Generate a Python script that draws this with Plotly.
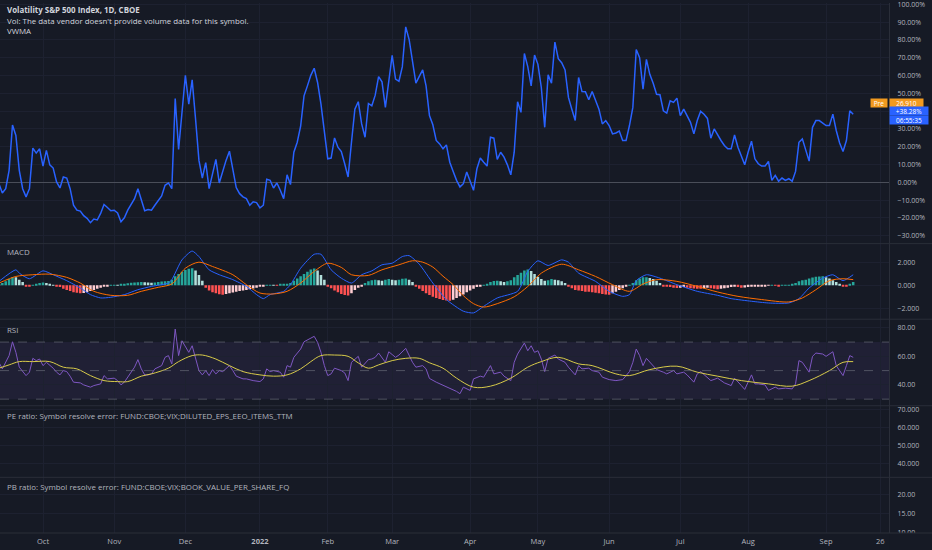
import pandas as pd
import plotly.graph_objects as go
from plotly.subplots import make_subplots

# ---------------- calendar (trading days shown on the chart) ----------------
FIRST_BAR = "2021-09-14"
LAST_BAR = "2022-09-14"
HOLIDAYS = ["2021-11-25", "2021-12-24", "2022-01-17", "2022-02-21", "2022-04-15",
            "2022-05-30", "2022-06-20", "2022-07-04", "2022-09-05"]

tick_dates = ["2021-10-01", "2021-11-01", "2021-12-01", "2022-01-03", "2022-02-01",
              "2022-03-01", "2022-04-01", "2022-05-02", "2022-06-01", "2022-07-01",
              "2022-08-01", "2022-09-01", "2022-09-26"]
tick_labels = ["Oct", "Nov", "Dec", "<b>2022</b>", "Feb", "Mar", "Apr", "May", "Jun",
               "Jul", "Aug", "Sep", "26"]

# ---------------- main series: VIX close, % change from first visible bar ----------------
vix_pct = [
    -0.8, -6, -3.6, 6.7, 32.2, 26.3, 6.7, -3.6, -8.2, -3.6,
    19.2, 16.4, 18.8, 9.1, 17.9, 9.8, 8.0, 0.2, -3.2, 3.0,
    2.4, -3.6, -12.9, -15.7, -16.2, -18.8, -20.3, -22.7, -20.7, -21.2,
    -17.5, -12.5, -14.2, -16.0, -15.7, -17.2, -22.2, -20.0, -15.7, -12.0,
    -9.2, -3.6, -10.1, -16.0, -15.3, -15.7, -12.9, -10.1, -7.7, -1.7,
    -0.4, -3.6, 47.1, 18.4, 41.1, 60.1, 43.9, 57.6, 35.6, 12.3,
    2.4, 11.0, -3.6, 4.2, 12.9, -0.4, 6.7, 12.3, 17.5, 7.6,
    -3.0, -6.4, -8.2, -9.2, -12.9, -11.0, -11.4, -14.4, -12.9, 1.7,
    1.1, -3.2, -0.4, -4.5, -9.2, 4.2, -1.3, 16.9, 22.5, 31.5,
    48.6, 54.2, 60.1, 64.1, 56.1, 43.9, 28.1, 13.2, 13.6, 24.9,
    19.7, 17.3, 10.4, 3.0, 22.5, 41.1, 45.3, 32.8, 25.3, 44.3,
    43.0, 49.0, 59.4, 56.5, 42.1, 56.5, 71.3, 58.0, 56.8, 65.0,
    87.4, 80.3, 69.1, 55.7, 59.5, 63.2, 54.2, 37.5, 32.3, 23.5,
    21.6, 18.8, 21.0, 11.3, 6.1, 1.1, -2.6, -0.8, 5.8, 1.1,
    -4.5, 7.6, 13.6, 11.3, 9.1, 25.3, 24.8, 12.9, 16.9, 14.1,
    9.8, 4.2, 16.9, 45.3, 39.3, 72.4, 65.0, 54.2, 71.5, 66.3,
    53.3, 30.9, 60.4, 55.7, 78.8, 69.5, 67.2, 63.2, 47.7, 41.1,
    34.7, 58.9, 51.0, 50.9, 46.4, 51.0, 46.4, 41.1, 32.8, 34.7,
    31.9, 27.2, 27.7, 28.8, 23.5, 23.5, 31.9, 42.1, 74.7, 70.0,
    52.3, 69.1, 60.7, 55.7, 49.5, 49.2, 40.2, 38.9, 45.8, 44.9,
    47.3, 37.5, 41.1, 37.8, 33.7, 27.2, 34.7, 39.9, 38.3, 35.9,
    24.8, 30.0, 26.6, 23.5, 20.7, 18.8, 18.8, 26.6, 19.7, 15.1,
    9.8, 16.9, 23.1, 13.2, 10.4, 9.1, 9.1, 11.7, 1.1, 3.9,
    0.6, 2.4, 1.1, 2.0, 0.6, 6.1, 22.5, 24.4, 18.8, 11.9,
    30.9, 34.7, 34.7, 33.3, 31.9, 31.9, 38.3, 29.1, 22.1, 17.3,
    23.5, 40.2, 38.28,
]
pre_pct = 44.6
pre_price_text = "26.910"
last_change_text = "+38.28%"
countdown_text = "06:55:35"
main_ticks = list(range(-30, 101, 10))
main_ticks_hidden = [40]          # covered by the price labels in the original

# ---------------- MACD pane ----------------
macd_hist = [
    0.1, 0.2, 0.35, 0.55, 0.7, 0.7, 0.5, 0.3,
    -0.05, -0.12,
    0.05, 0.15, 0.2, 0.25, 0.2, 0.15,
    0.05, -0.05,
    -0.15, -0.3, -0.4, -0.5, -0.6, -0.65, -0.68, -0.66,
    -0.6, -0.5, -0.4, -0.3, -0.2,
    -0.1, -0.05, 0.02, 0.05, 0.02,
    0.08, 0.12, 0.18, 0.22, 0.25, 0.28, 0.3, 0.28, 0.25, 0.22, 0.25, 0.3, 0.33, 0.35, 0.38,
    0.5, 0.8, 1.0, 1.2, 1.35, 1.45, 1.5,
    1.3, 0.9, 0.4,
    -0.2, -0.45, -0.6, -0.7, -0.78, -0.82,
    -0.75, -0.7, -0.62, -0.55, -0.5, -0.45, -0.4, -0.35, -0.28, -0.2, -0.12,
    -0.05, 0.02, 0.05, 0.03, -0.02,
    0.08, 0.12, 0.15, 0.2,
    0.4, 0.6, 0.8, 1.0, 1.2, 1.38, 1.48,
    1.3, 0.9, 0.5,
    -0.1, -0.25, -0.45, -0.6, -0.75, -0.85, -0.88,
    -0.7, -0.4, -0.2, -0.05,
    0.2, 0.35, 0.45, 0.5, 0.45, 0.4, 0.5, 0.55, 0.5, 0.45, 0.5, 0.58, 0.6, 0.5, 0.3,
    -0.1, -0.3, -0.5, -0.7, -0.85, -1.0, -1.1, -1.2, -1.27, -1.32, -1.35,
    -1.25, -1.1, -0.95, -0.8, -0.6, -0.45, -0.3, -0.15,
    -0.05, 0.05, 0.1,
    0.3, 0.38, 0.4, 0.35, 0.3, 0.35, 0.45,
    0.7, 0.9, 1.1, 1.3, 1.38,
    1.25, 1.0, 0.75, 0.55,
    0.4, 0.45, 0.55, 0.5, 0.45, 0.35, 0.2,
    -0.1, -0.25, -0.4, -0.45, -0.5, -0.55, -0.55, -0.6, -0.65, -0.7, -0.75, -0.8, -0.82,
    -0.7, -0.55, -0.4, -0.25, -0.1,
    0.05, 0.2, 0.45, 0.6, 0.7, 0.72, 0.65, 0.55,
    0.4, 0.2,
    -0.05, -0.1, -0.15, -0.2, -0.22, -0.2, -0.15, -0.2, -0.25, -0.28,
    -0.3, -0.3, -0.25, -0.2, -0.25, -0.3, -0.35, -0.3, -0.25, -0.2,
    -0.15, -0.12, -0.15, -0.2, -0.18, -0.15, -0.12, -0.1, -0.08, -0.06,
    -0.04, -0.02, 0.02, -0.02, -0.03, 0.01, 0.03, 0.05, 0.08,
    0.2, 0.35, 0.45, 0.5, 0.6, 0.68, 0.75, 0.78, 0.8,
    0.7, 0.6, 0.45, 0.3, 0.15,
    -0.05, -0.1,
    0.15, 0.3,
]

# (bar number, value) readings
macd_points = [
    (0, 0.35), (5, 1.36), (6, 1.07), (9, 0.58), (13, 1.27), (16, 0.93), (20, 0.41),
    (24, -0.23), (27, -0.81), (30, -1.1), (33, -1.04), (37, -0.81), (41, -0.38),
    (45, -0.09), (50, 0.2), (51, 0.5), (54, 2.23), (57, 3.0), (59, 2.52), (62, 1.36),
    (65, 0.93), (69, 0.5), (73, -0.09), (76, -0.81), (78, -1.16), (80, -0.81),
    (84, -0.52), (86, 0.06), (89, 1.5), (93, 2.72), (95, 2.72), (98, 1.36),
    (101, 0.63), (104, 0.2), (107, 0.93), (110, 1.27), (113, 1.8), (116, 1.94),
    (119, 2.52), (121, 2.6), (124, 1.85), (128, 0.2), (132, -1.24), (137, -2.26),
    (140, -2.41), (143, -1.83), (147, -1.1), (153, -0.52), (156, 1.22), (159, 2.15),
    (162, 1.74), (166, 2.23), (168, 2.03), (171, 1.07), (176, 0.35), (180, -0.52),
    (184, -0.96), (186, -0.81), (188, 0.41), (191, 0.93), (195, 0.63), (200, 0.06),
    (206, -0.52), (212, -0.87), (216, -1.16), (222, -1.39), (227, -1.54),
    (233, -1.54), (236, -1.16), (239, -0.23), (243, 0.63), (246, 0.93),
    (249, 0.41), (252, 0.93),
]
signal_points = [
    (0, 0.2), (5, 0.78), (10, 0.93), (15, 0.98), (20, 0.7), (24, 0.2), (28, -0.52),
    (33, -0.87), (38, -0.87), (42, -0.52), (47, -0.17), (51, 0.12), (55, 1.5),
    (59, 2.03), (63, 1.65), (69, 0.93), (73, 0.06), (77, -0.67), (81, -0.75),
    (85, -0.52), (89, 0.2), (93, 1.22), (97, 1.94), (101, 1.57), (104, 0.93),
    (109, 0.87), (113, 1.36), (118, 1.8), (122, 2.15), (125, 2.03), (128, 1.6),
    (131, 0.8), (134, 0.06), (137, -0.9), (140, -1.6), (143, -1.9), (147, -1.6),
    (152, -1.0), (156, -0.1), (160, 1.07), (166, 1.85), (171, 1.36), (176, 0.78),
    (181, 0.06), (186, -0.52), (190, 0.12), (194, 0.5), (200, 0.35), (206, -0.09),
    (212, -0.58), (218, -0.96), (225, -1.24), (233, -1.45), (237, -1.1),
    (241, -0.38), (245, 0.41), (249, 0.58), (252, 0.5),
]

# ---------------- RSI pane ----------------
rsi_points = [
    (0, 55.8), (1, 51.2), (3, 60.5), (4, 70.2), (5, 62.8), (6, 52.4), (8, 46.5),
    (9, 48.9), (10, 58.6), (11, 57), (12, 58.1), (13, 53.5), (14, 55.8), (16, 51.7),
    (17, 48.9), (18, 47), (19, 50), (20, 49.3), (21, 46.1), (22, 41.9), (24, 41.4),
    (25, 40), (27, 38.4), (28, 39.5), (30, 40.7), (31, 46.5), (32, 44.2), (34, 44.7),
    (35, 43), (36, 40), (37, 41.9), (39, 48.9), (40, 52.4), (41, 57.7), (42, 51.2),
    (43, 47), (44, 47), (45, 47.7), (46, 51.2), (48, 53.5), (49, 59.3), (50, 60.5),
    (51, 54.7), (52, 79.1), (53, 60.5), (54, 70.9), (55, 66.3), (56, 62.8),
    (57, 67.4), (58, 59.3), (59, 50), (60, 47), (61, 50), (62, 46.5), (63, 50.7),
    (64, 47.7), (65, 50), (66, 49.3), (68, 53.5), (69, 50), (70, 46.1), (72, 44.2),
    (73, 44.2), (75, 43), (77, 42.3), (78, 44.2), (79, 51.2), (80, 49.3), (81, 50),
    (83, 48.9), (84, 45.4), (85, 53.5), (86, 52.4), (87, 59.3), (89, 65.1),
    (90, 70.2), (92, 72.6), (93, 74), (94, 69.8), (95, 62.8), (96, 53.5), (97, 46.5),
    (98, 47.7), (99, 51.7), (101, 50), (102, 48.4), (103, 43), (104, 55.8),
    (106, 60), (107, 52.4), (109, 57.7), (110, 58.1), (111, 59.3), (112, 62.3),
    (114, 55.8), (115, 63.2), (117, 59.3), (118, 60.9), (120, 65.6), (121, 60.9),
    (122, 55.8), (123, 52.4), (125, 53.5), (126, 51.2), (127, 44.5), (129, 41.9),
    (131, 39.8), (133, 38), (135, 35.4), (136, 33.8), (137, 38.4), (139, 36.1),
    (140, 44.2), (142, 46.1), (143, 45.4), (145, 53.5), (146, 47.7), (148, 48.9),
    (149, 46.1), (151, 43), (152, 55.8), (153, 61.6), (155, 69.3), (156, 63.9),
    (157, 67.4), (158, 62.8), (159, 63.9), (160, 58.1), (161, 49.3), (162, 58.6),
    (164, 60.9), (165, 58.1), (167, 55.8), (168, 52.4), (170, 47), (171, 53.5),
    (172, 51.2), (174, 51.7), (175, 50), (177, 48.9), (178, 45.4), (180, 43.7),
    (182, 43), (184, 43.7), (186, 49.3), (187, 55.8), (188, 65.1), (189, 60.5),
    (190, 53.5), (191, 58.6), (193, 53.5), (194, 50.7), (196, 48.9), (197, 47.7),
    (199, 50), (200, 47.7), (202, 48.9), (203, 47), (205, 41.9), (206, 47.7),
    (207, 49.3), (209, 45.4), (210, 43), (212, 44.7), (214, 41.4), (216, 39.5),
    (217, 44.7), (219, 39.5), (220, 36.8), (222, 47), (223, 40.7), (224, 40.7),
    (226, 40), (227, 36.1), (229, 38.4), (230, 37.2), (232, 37.7), (234, 37.2),
    (235, 40.7), (236, 57), (237, 55.8), (239, 48.9), (240, 60), (241, 62.3),
    (243, 61.6), (244, 60), (246, 63.2), (247, 53.5), (249, 46.5), (250, 53.5),
    (251, 60.5), (252, 59.3),
]
rsi_ma_points = [
    (0, 51.7), (3, 54), (6, 56.3), (10, 56.3), (15, 56.3), (19, 52.4), (23, 51.2),
    (27, 46.5), (31, 43), (35, 42.3), (38, 42.3), (42, 46.1), (45, 47.7), (50, 51.7),
    (53, 56.3), (57, 60.5), (60, 60.9), (64, 58.1), (68, 53.5), (72, 49.3), (77, 47),
    (81, 46.1), (85, 47), (89, 51.2), (92, 56.3), (95, 60.5), (99, 60.9), (103, 60),
    (106, 55.4), (109, 51.7), (112, 54), (116, 57), (120, 58.6), (124, 58.6),
    (127, 55.5), (131, 51.7), (135, 44.7), (140, 38.4), (145, 39.1), (151, 44.7),
    (156, 52.4), (160, 56.3), (165, 59.3), (171, 54.7), (175, 53.5), (182, 47.7),
    (186, 46.5), (192, 50.7), (200, 53.1), (206, 48.9), (212, 46.1), (219, 43),
    (227, 40.7), (234, 39.1), (239, 43), (245, 50), (249, 55.8), (252, 56.3),
]
rsi_upper, rsi_mid, rsi_lower = 70, 50, 30

# PE / PB panes: symbol resolve error -> no values
pe_ticks = [40, 50, 60, 70]
pb_ticks = [10, 15, 20]

# ---------------- build ----------------
dates = pd.bdate_range(FIRST_BAR, LAST_BAR, freq="C", holidays=HOLIDAYS)


def unpack(points):
    return [dates[b] for b, _ in points], [v for _, v in points]


def fmt(v, dec, suffix=""):
    s = f"{abs(v):.{dec}f}{suffix}"
    return ("\u2212" + s) if v < 0 else s


BG = "#161A25"
GRID = "#1D2130"
SEP = "#2A2E39"
TXT = "#B2B5BE"
FONT = "Open Sans"

fig = make_subplots(rows=5, cols=1, shared_xaxes=True, vertical_spacing=0,
                    row_heights=[242, 76, 87, 72, 56])

fig.add_trace(go.Scatter(x=dates, y=vix_pct, mode="lines",
                         line=dict(color="#2962FF", width=1.5)), row=1, col=1)

hist_colors = []
prev = macd_hist[0]
for v in macd_hist:
    if v >= 0:
        hist_colors.append("#26A69A" if v > prev else "#B2DFDB")
    else:
        hist_colors.append("#FFCDD2" if v > prev else "#FF5252")
    prev = v
fig.add_trace(go.Bar(x=dates[:len(macd_hist)], y=macd_hist, marker_color=hist_colors,
                     marker_line_width=0), row=2, col=1)
mx, my = unpack(macd_points)
fig.add_trace(go.Scatter(x=mx, y=my, mode="lines", line=dict(color="#2962FF", width=1, shape="spline", smoothing=0.6)), row=2, col=1)
sx, sy = unpack(signal_points)
fig.add_trace(go.Scatter(x=sx, y=sy, mode="lines", line=dict(color="#FF6D00", width=1, shape="spline", smoothing=0.8)), row=2, col=1)

rx, ry = unpack(rsi_points)
fig.add_trace(go.Scatter(x=rx, y=ry, mode="lines", line=dict(color="#7E57C2", width=1)), row=3, col=1)
ax_, ay_ = unpack(rsi_ma_points)
fig.add_trace(go.Scatter(x=ax_, y=ay_, mode="lines", line=dict(color="#D8CB4A", width=1, shape="spline", smoothing=1)), row=3, col=1)

# PE / PB series are unavailable (all missing), the panes keep their scales
no_values = [None] * len(dates)
fig.add_trace(go.Scatter(x=dates, y=no_values, mode="lines", hoverinfo="skip"), row=4, col=1)
fig.add_trace(go.Scatter(x=dates, y=no_values, mode="lines", hoverinfo="skip"), row=5, col=1)

fig.update_xaxes(
    type="date",
    range=["2021-09-14 07:35", "2022-09-28 13:30"],
    rangebreaks=[dict(bounds=["sat", "mon"]), dict(values=HOLIDAYS)],
    tickmode="array", tickvals=tick_dates, ticktext=tick_labels,
    showgrid=True, gridcolor=GRID, gridwidth=1, zeroline=False, showline=False,
    ticks="", ticklen=0, ticklabeloverflow="allow", ticklabelstandoff=2,
    tickfont=dict(family=FONT, size=7.5, color=TXT),
)
for r in range(1, 5):
    fig.update_xaxes(showticklabels=False, row=r, col=1)
fig.update_xaxes(showticklabels=True, row=5, col=1)

fig.update_yaxes(side="right", showgrid=True, gridcolor=GRID, gridwidth=1, zeroline=False,
                 showline=True, linecolor=SEP, linewidth=1, ticks="", ticklen=0,
                 ticklabeloverflow="allow", ticklabelstandoff=6,
                 tickfont=dict(family=FONT, size=7, color=TXT))
fig.update_yaxes(row=1, col=1, range=[-34.5, 100.8], tickmode="array",
                 tickvals=main_ticks,
                 ticktext=["" if v in main_ticks_hidden else fmt(v, 2, "%") for v in main_ticks],
                 zeroline=True, zerolinecolor="#4A4E59", zerolinewidth=1)
fig.update_yaxes(row=2, col=1, range=[-2.96, 3.65], tickmode="array", tickvals=[-2, 0, 2],
                 ticktext=[fmt(v, 3) for v in (-2, 0, 2)])
fig.update_yaxes(row=3, col=1, range=[25.4, 86.0], tickmode="array", tickvals=[40, 60, 80],
                 ticktext=[fmt(v, 2) for v in (40, 60, 80)])
fig.update_yaxes(row=4, col=1, range=[31.97, 72.4], tickmode="array", tickvals=pe_ticks,
                 ticktext=[fmt(v, 3) for v in pe_ticks])
fig.update_yaxes(row=5, col=1, range=[9.92, 24.39], tickmode="array", tickvals=pb_ticks,
                 ticktext=[fmt(v, 2) for v in pb_ticks])

H = 533.0
shapes = [
    dict(type="rect", xref="x3 domain", yref="y3", x0=0, x1=1, y0=rsi_lower, y1=rsi_upper,
         fillcolor="rgba(126,87,194,0.1)", line_width=0, layer="below"),
]
for lvl in (rsi_upper, rsi_mid, rsi_lower):
    shapes.append(dict(type="line", xref="x3 domain", yref="y3", x0=0, x1=1, y0=lvl, y1=lvl,
                       line=dict(color="rgba(120,123,134,0.55)", width=1, dash="dash")))
# mask bottom-right corner (price-scale clipping)
shapes.append(dict(type="rect", xref="paper", yref="paper", x0=1.0005, x1=1.06, y0=-17 / H, y1=0,
                   fillcolor=BG, line_width=0, layer="above"))
for ypx in (242, 318, 405, 477, 533):
    yy = (H - ypx) / H
    shapes.append(dict(type="line", xref="paper", yref="paper", x0=0, x1=932 / 889, y0=yy, y1=yy,
                       line=dict(color=SEP, width=1), layer="above"))

ann = []
legend_rows = [
    ("<b>Volatility S&P 500 Index, 1D, CBOE</b>", 7.3, "#D1D4DC"),
    ("Vol: The data vendor doesn't provide volume data for this symbol.", 18.3, "#D1D4DC"),
    ("VWMA", 28.3, "#D1D4DC"),
    ("MACD", 250.7, TXT),
    ("RSI", 329, TXT),
    ("PE ratio: Symbol resolve error: FUND:CBOE;VIX;DILUTED_EPS_EEO_ITEMS_TTM", 415, TXT),
    ("PB ratio: Symbol resolve error: FUND:CBOE;VIX;BOOK_VALUE_PER_SHARE_FQ", 486.7, TXT),
]
for text, ypx, col in legend_rows:
    ann.append(dict(text=text, xref="paper", yref="paper", x=5 / 889, y=(H - ypx) / H,
                    xanchor="left", yanchor="middle", showarrow=False,
                    font=dict(family=FONT, size=7.9, color=col)))

LBL = dict(family=FONT, size=6.5, color="#FFFFFF")
BOX_H = 8.4
ann.append(dict(text="Pre", xref="paper", yref="y", x=1, y=pre_pct, xanchor="right", xshift=-1,
                yanchor="middle", showarrow=False, bgcolor="#F29A1F", width=16, height=BOX_H,
                font=LBL, borderpad=0))
ann.append(dict(text=pre_price_text, xref="paper", yref="y", x=1, y=pre_pct, xanchor="left",
                yanchor="middle", showarrow=False, bgcolor="#F29A1F", width=33, height=BOX_H,
                font=LBL, borderpad=0))
ann.append(dict(text=last_change_text, xref="paper", yref="y", x=1, y=pre_pct, xanchor="left",
                yanchor="middle", yshift=-BOX_H, showarrow=False, bgcolor="#2962FF", width=38,
                height=BOX_H, font=LBL, borderpad=0))
ann.append(dict(text=countdown_text, xref="paper", yref="y", x=1, y=pre_pct, xanchor="left",
                yanchor="middle", yshift=-2 * BOX_H, showarrow=False, bgcolor="#2962FF", width=38,
                height=BOX_H, font=LBL, borderpad=0))

fig.update_layout(
    width=932, height=550, autosize=False,
    margin=dict(l=0, r=43, t=0, b=17),
    paper_bgcolor=BG, plot_bgcolor=BG, showlegend=False, bargap=0.25,
    font=dict(family=FONT, size=7, color=TXT),
    shapes=shapes, annotations=ann,
)

fig.write_html("out.html", config={"displayModeBar": False},
               post_script="document.body.style.margin='0';document.body.style.background='#161A25';")
